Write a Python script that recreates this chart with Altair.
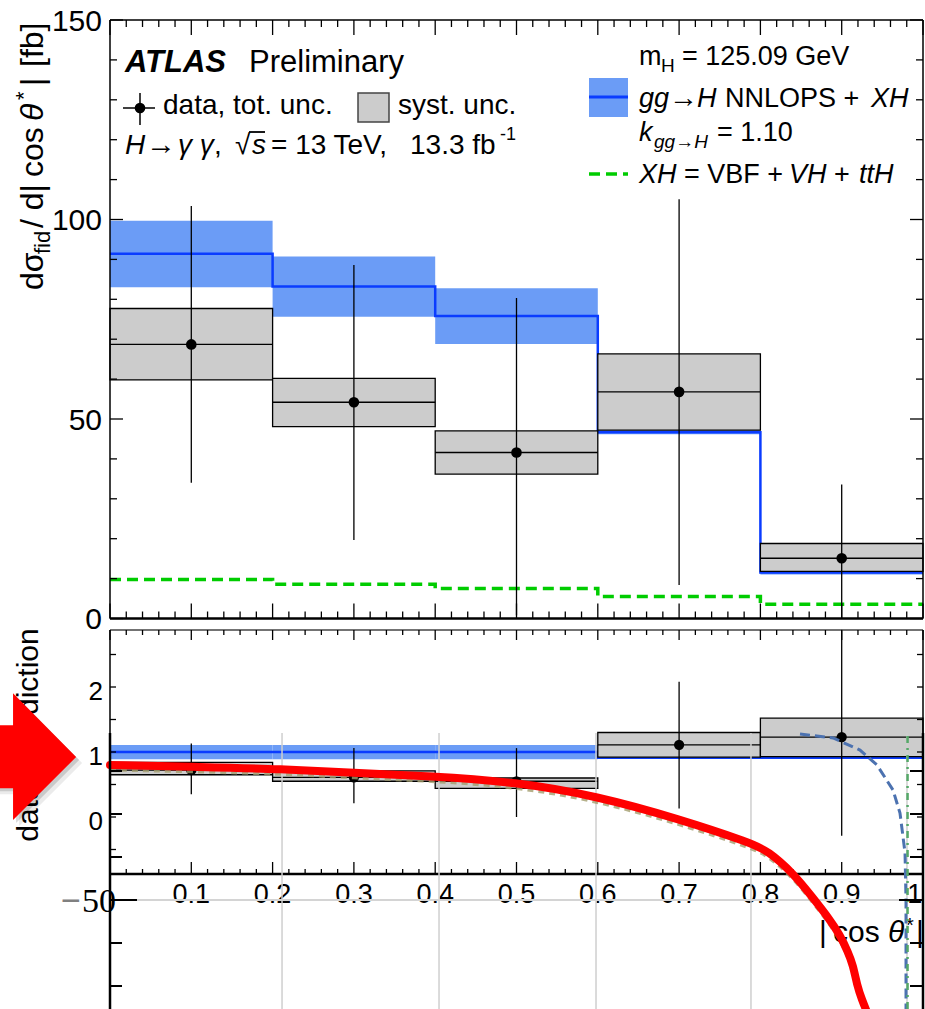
import altair as alt
import pandas as pd

# ---------------- values ----------------
bin_lo = [0.0, 0.2, 0.4, 0.6, 0.8]
bin_hi = [0.2, 0.4, 0.6, 0.8, 1.0]
bin_c = [0.1, 0.3, 0.5, 0.7, 0.9]
bin_edges = [0.0, 0.2, 0.4, 0.6, 0.8, 1.0]

# upper panel (fb)
pred = [91.4, 83.2, 75.8, 46.7, 11.5]
pred_lo = [83.0, 75.6, 68.8, 46.2, 11.0]
pred_hi = [99.7, 90.7, 82.8, 47.2, 11.9]
xh = [9.8, 8.6, 7.5, 5.5, 3.6]
data_val = [68.7, 54.2, 41.6, 56.8, 15.1]
tot_lo = [34.0, 19.7, 0.8, 8.4, 0.0]
tot_hi = [103.4, 88.6, 80.3, 105.1, 33.6]
syst_lo = [59.8, 48.1, 36.2, 47.2, 11.8]
syst_hi = [77.7, 60.2, 47.0, 66.3, 18.8]

# ratio panel
r_pred = [1.0, 1.0, 1.0, 0.91, 0.91]
r_band_lo = [0.888, 0.888, 0.888, 0.91, 0.91]
r_band_hi = [1.108, 1.108, 1.108, 0.91, 0.91]
r_val = [0.72, 0.61, 0.55, 1.11, 1.23]
r_tot_lo = [0.35, 0.21, 0.0, 0.13, -0.29]
r_tot_hi = [1.13, 1.06, 1.06, 2.08, 2.88]
r_syst_lo = [0.65, 0.55, 0.44, 0.92, 0.93]
r_syst_hi = [0.84, 0.71, 0.60, 1.30, 1.52]

# overlaid sketch (x in |cos theta*|, y in its own units)
red_x = [0.0, 0.1107, 0.2116, 0.2989, 0.3936, 0.4994, 0.599, 0.6999, 0.7884, 0.8093,
         0.8401, 0.8647, 0.8831, 0.8979, 0.9077, 0.9139, 0.9188, 0.925, 0.9311]
red_y = [107.0, 104.7, 102.3, 97.7, 94.2, 87.2, 70.9, 44.2, 16.3, 7.0,
         -18.6, -47.7, -69.8, -90.7, -110.5, -125.6, -148.8, -166.3, -180.2]
blue_x = [0.8487, 0.8893, 0.9225, 0.9434, 0.9631, 0.9717, 0.9779, 0.9791, 0.9791]
blue_y = [143.0, 138.4, 124.4, 107.0, 77.9, 51.2, 4.7, -50.0, -180.0]
green_x = [0.981]
ov_grid_x = [0.2116, 0.4047, 0.5978, 0.7884, 0.9803]
ov_grid_y = [-50]
ov_ticks = [100, 50, 0, -100, -150]
ov_major = [-50]

# tick labels
top_y_ticks = [0, 50, 100, 150]
top_y_labels = ["0", "50", "100", "150"]
ratio_y_ticks = [0, 1, 2]
ratio_y_labels = ["0", "1", "2"]
ratio_y_all = [-0.5, 0, 0.5, 1, 1.5, 2, 2.5]
x_label_pos = [0.1, 0.2, 0.3, 0.4, 0.5, 0.6, 0.7, 0.8, 0.9, 0.99]
x_labels = ["0.1", "0.2", "0.3", "0.4", "0.5", "0.6", "0.7", "0.8", "0.9", "1"]

# ---------------- style / layout ----------------
F = "Liberation Sans"
BAND = "#6b9cf6"
BLUE = "#0a3cff"
GREY = "#cccccc"
GREEN = "#00cc00"
RED = "#ff0000"

W, H = 813, 989
OX, OY = 110, 20


def px(x):
    return x - OX


def py(y):
    return y - OY


XS = alt.Scale(domain=[0, 1], nice=False, zero=False)
YT = alt.Scale(domain=[-97.87, 150], nice=False, zero=False)
YR = alt.Scale(domain=[-2.954, 12.262], nice=False, zero=False)
YO = alt.Scale(domain=[-176.74, 973.26], nice=False, zero=False)

ONE = alt.Data(values=[{"k": 0}])


def X(f):
    return alt.X(f, type="quantitative", scale=XS, axis=None)


def Y(f, s):
    return alt.Y(f, type="quantitative", scale=s, axis=None)


def seg(x0, y0, x1, y1, color="black", w=1.5, dash=None):
    kw = dict(color=color, strokeWidth=w)
    if dash:
        kw["strokeDash"] = dash
    return alt.Chart(ONE).mark_rule(**kw).encode(
        x=alt.value(px(x0)), y=alt.value(py(y0)),
        x2=alt.value(px(x1)), y2=alt.value(py(y1)))


def txt(s, x, y, size=28, style="normal", weight="normal", align="left",
        angle=0, color="black", font=F):
    return alt.Chart(ONE).mark_text(
        text=s, font=font, fontSize=size, fontStyle=style, fontWeight=weight,
        align=align, baseline="alphabetic", angle=angle, color=color
    ).encode(x=alt.value(px(x)), y=alt.value(py(y)))


def xticks(vals, y0, y1, w=1.3):
    return alt.Chart(pd.DataFrame({"x": vals})).mark_rule(color="black", strokeWidth=w).encode(
        x=X("x"), y=alt.value(py(y0)), y2=alt.value(py(y1)))


def yticks(vals, s, x0, x1, w=1.3):
    return alt.Chart(pd.DataFrame({"y": vals})).mark_rule(color="black", strokeWidth=w).encode(
        y=Y("y", s), x=alt.value(px(x0)), x2=alt.value(px(x1)))


x_major = [round(i * 0.1, 1) for i in range(11)]
x_minor = [round(i * 0.02, 2) for i in range(51) if i % 5 != 0]
top_minor = [v for v in range(10, 150, 10) if v % 50 != 0]

# ---------------- upper panel ----------------
top_df = pd.DataFrame({"lo": bin_lo, "hi": bin_hi, "c": bin_c, "plo": pred_lo, "phi": pred_hi,
                       "val": data_val, "tlo": tot_lo, "thi": tot_hi, "slo": syst_lo, "shi": syst_hi})
step_df = pd.DataFrame({"x": bin_edges, "pred": pred + [pred[-1]], "xh": xh + [xh[-1]]})

top_layers = [
    alt.Chart(top_df).mark_rect(color=BAND, strokeWidth=0).encode(
        x=X("lo"), x2="hi", y=Y("plo", YT), y2="phi"),
    alt.Chart(step_df).mark_line(interpolate="step-after", color=GREEN, strokeWidth=3.5,
                                 strokeDash=[11, 6]).encode(x=X("x"), y=Y("xh", YT)),
    alt.Chart(step_df).mark_line(interpolate="step-after", color=BLUE, strokeWidth=2.5).encode(
        x=X("x"), y=Y("pred", YT)),
    alt.Chart(top_df).mark_rect(fill=GREY, stroke="black", strokeWidth=1.3).encode(
        x=X("lo"), x2="hi", y=Y("slo", YT), y2="shi"),
    alt.Chart(top_df).mark_rule(color="black", strokeWidth=1.3).encode(
        x=X("lo"), x2="hi", y=Y("val", YT)),
    alt.Chart(top_df).mark_rule(color="black", strokeWidth=1.3).encode(
        x=X("c"), y=Y("tlo", YT), y2="thi"),
    alt.Chart(top_df).mark_circle(size=113, color="black", opacity=1).encode(
        x=X("c"), y=Y("val", YT)),
    # frame
    seg(110, 20, 923, 20), seg(110, 20, 110, 618.5), seg(923, 20, 923, 618.5),
    seg(110, 618.5, 923, 618.5, w=2.5),
    xticks(x_major, 618.5, 603.5), xticks(x_minor, 618.5, 611.5),
    xticks(x_major, 20, 35), xticks(x_minor, 20, 27),
    yticks(top_y_ticks, YT, 110, 123), yticks(top_minor, YT, 110, 117),
    yticks(top_y_ticks, YT, 923, 910), yticks(top_minor, YT, 923, 916),
    alt.Chart(pd.DataFrame({"v": top_y_ticks, "lab": top_y_labels})).mark_text(
        align="right", baseline="alphabetic", dy=11, fontSize=30, font=F, color="black").encode(
        y=Y("v", YT), x=alt.value(px(102)), text="lab:N"),
]

# ---------------- ratio panel ----------------
r_df = pd.DataFrame({"lo": bin_lo, "hi": bin_hi, "c": bin_c, "blo": r_band_lo, "bhi": r_band_hi,
                     "val": r_val, "tlo": r_tot_lo, "thi": r_tot_hi, "slo": r_syst_lo, "shi": r_syst_hi})
r_step = pd.DataFrame({"x": bin_edges, "p": r_pred + [r_pred[-1]]})

ratio_layers = [
    alt.Chart(r_df).mark_rect(color=BAND, strokeWidth=0).encode(
        x=X("lo"), x2="hi", y=Y("blo", YR), y2="bhi"),
    alt.Chart(r_step).mark_line(interpolate="step-after", color=BLUE, strokeWidth=2.5).encode(
        x=X("x"), y=Y("p", YR)),
    alt.Chart(r_df).mark_rect(fill=GREY, stroke="black", strokeWidth=1.3).encode(
        x=X("lo"), x2="hi", y=Y("slo", YR), y2="shi"),
    alt.Chart(r_df).mark_rule(color="black", strokeWidth=1.3).encode(
        x=X("lo"), x2="hi", y=Y("val", YR)),
    alt.Chart(r_df).mark_rule(color="black", strokeWidth=1.3).encode(
        x=X("c"), y=Y("tlo", YR), y2="thi"),
    alt.Chart(r_df).mark_circle(size=105, color="black", opacity=1).encode(
        x=X("c"), y=Y("val", YR)),
    seg(110, 630, 923, 630, color="#444444", w=1.5),
    seg(110, 630, 110, 874), seg(923, 630, 923, 874),
    seg(110, 874, 923, 874, w=2.5),
    xticks(x_major, 630, 640), xticks(x_minor, 630, 635),
    xticks(x_major, 874, 862), xticks(x_minor, 874, 869),
    yticks(ratio_y_all, YR, 110, 116), yticks(ratio_y_all, YR, 923, 917),
    alt.Chart(pd.DataFrame({"v": ratio_y_ticks, "lab": ratio_y_labels})).mark_text(
        align="right", baseline="alphabetic", dy=13, fontSize=26, font=F, color="black").encode(
        y=Y("v", YR), x=alt.value(px(103)), text="lab:N"),
    alt.Chart(pd.DataFrame({"x": x_label_pos, "lab": x_labels})).mark_text(
        align="center", baseline="alphabetic", fontSize=27, font=F, color="black").encode(
        x=X("x"), y=alt.value(py(903)), text="lab:N"),
]

# ---------------- annotations (text) ----------------
ann_layers = [
    # upper y title
    txt("dσ", 43, 290, size=32, angle=270),
    txt("fid", 50, 254, size=22, angle=270),
    txt("/ d|", 43, 228, size=32, angle=270),
    txt("cos", 43, 177, size=32, angle=270),
    txt("θ", 43, 121, size=32, style="italic", angle=270),
    txt("*", 31, 100, size=22, angle=270),
    txt("|", 43, 86, size=32, angle=270),
    txt("[fb]", 43, 67, size=32, angle=270),
    # ratio y title
    txt("data / prediction", 38, 735, size=30, angle=270, align="center"),
    # x title
    txt("|", 819, 942, size=30), txt("cos", 833, 942, size=30),
    txt("θ", 888, 942, size=30, style="italic"), txt("*", 906, 932, size=20),
    txt("|", 916, 942, size=30),
    # ATLAS label
    txt("ATLAS", 125, 72, size=31, style="italic", weight="bold"),
    txt("Preliminary", 249, 72, size=31),
    seg(123, 108, 155, 108), seg(140, 93, 140, 125),
    alt.Chart(ONE).mark_circle(size=113, color="black", opacity=1).encode(
        x=alt.value(px(140)), y=alt.value(py(108))),
    txt("data, tot. unc.", 163, 114, size=28),
    alt.Chart(ONE).mark_rect(fill=GREY, stroke="#444444", strokeWidth=1.5).encode(
        x=alt.value(px(358)), x2=alt.value(px(389)), y=alt.value(py(93)), y2=alt.value(py(122))),
    txt("syst. unc.", 398, 114, size=28),
    txt("H", 125, 154, size=28, style="italic"), txt("→", 146, 154, size=30),
    txt("γ γ", 178, 154, size=28, style="italic"), txt(",", 214, 154, size=28),
    txt("√", 235, 154, size=28), txt("s", 252, 154, size=28, style="italic"),
    seg(249, 132, 265, 132, w=1.8),
    txt("= 13 TeV,", 271, 154, size=28), txt("13.3 fb", 410, 154, size=28),
    txt("-1", 500, 140, size=18),
    # right legend
    txt("m", 639, 65, size=27), txt("H", 661, 72, size=19), txt("= 125.09 GeV", 682, 65, size=27),
    alt.Chart(ONE).mark_rect(fill=BAND, strokeWidth=0).encode(
        x=alt.value(px(589)), x2=alt.value(px(628)), y=alt.value(py(78)), y2=alt.value(py(117))),
    seg(589, 97, 628, 97, color=BLUE, w=3),
    txt("gg", 639, 107, size=27, style="italic"), txt("→", 669, 107, size=29),
    txt("H", 697, 107, size=27, style="italic"), txt("NNLOPS +", 725, 107, size=27),
    txt("XH", 871, 107, size=27, style="italic"),
    txt("k", 639, 141, size=27, style="italic"), txt("gg→H", 654, 148, size=19, style="italic"),
    txt("= 1.10", 717, 141, size=27),
    seg(589, 174, 628, 174, color=GREEN, w=3.5, dash=[11, 6]),
    txt("XH", 639, 183, size=27, style="italic"), txt("= VBF +", 684, 183, size=27),
    txt("VH", 789, 183, size=27, style="italic"), txt("+", 834, 183, size=27),
    txt("ttH", 859, 183, size=27, style="italic"),
]

# ---------------- overlaid sketch ----------------
red_df = pd.DataFrame({"x": red_x, "y": red_y})
blue_df = pd.DataFrame({"x": blue_x, "y": blue_y})
ARROW = "M-0.74,-0.49 L-0.23,-0.49 L-0.23,-0.98 L0.74,0 L-0.23,0.97 L-0.23,0.48 L-0.74,0.48 Z"

ov_layers = [
    alt.Chart(pd.DataFrame({"x": ov_grid_x})).mark_rule(color="#cfcfcf", strokeWidth=1.5).encode(
        x=X("x"), y=alt.value(py(733)), y2=alt.value(H)),
    alt.Chart(pd.DataFrame({"y": ov_grid_y})).mark_rule(color="#d4d4d4", strokeWidth=2).encode(
        y=Y("y", YO), x=alt.value(0), x2=alt.value(W)),
    alt.Chart(red_df).mark_line(color="#a39e6e", strokeWidth=3, strokeDash=[6, 5], yOffset=5,
                                interpolate="basis", opacity=0.8).encode(x=X("x"), y=Y("y", YO)),
    alt.Chart(red_df).mark_line(color=RED, strokeWidth=8, interpolate="basis",
                                strokeCap="round").encode(x=X("x"), y=Y("y", YO)),
    alt.Chart(blue_df).mark_line(color="#4c72b0", strokeWidth=3, strokeDash=[10, 5]).encode(
        x=X("x"), y=Y("y", YO)),
    alt.Chart(pd.DataFrame({"x": green_x})).mark_rule(color="#55a868", strokeWidth=2.5,
                                                       strokeDash=[7, 5, 2, 5]).encode(
        x=X("x"), y=alt.value(py(736)), y2=alt.value(H)),
    seg(110, 733, 110, 1009, w=2.5), seg(923, 733, 923, 1009, w=2.5),
    yticks(ov_ticks, YO, 110, 122, w=2), yticks(ov_major, YO, 110, 137, w=2),
    yticks(ov_ticks, YO, 923, 910, w=2), yticks(ov_major, YO, 923, 899, w=2),
    txt("−", 71, 912, size=34, align="center", color="#808080"),
    txt("50", 116, 912, size=34, align="right", font="Liberation Serif"),
    # arrow with soft shadow
    alt.Chart(ONE).mark_point(shape=ARROW, size=16900, filled=True, color="black", opacity=0.08,
                              strokeWidth=0).encode(x=alt.value(px(34)), y=alt.value(py(763))),
    alt.Chart(ONE).mark_point(shape=ARROW, size=16900, filled=True, color="black", opacity=0.14,
                              strokeWidth=0).encode(x=alt.value(px(31)), y=alt.value(py(760))),
    alt.Chart(ONE).mark_point(shape=ARROW, size=16900, filled=True, color=RED, opacity=1,
                              strokeWidth=0).encode(x=alt.value(px(28)), y=alt.value(py(757))),
]

chart = alt.layer(
    alt.layer(*top_layers),
    alt.layer(*ratio_layers),
    alt.layer(*ann_layers),
    alt.layer(*ov_layers),
).resolve_scale(y="independent").properties(
    width=W, height=H,
    padding={"left": OX, "top": OY, "right": 2, "bottom": 0},
    autosize=alt.AutoSizeParams(type="none"),
    background="white",
).configure_view(stroke=None)

chart.save("out.html", embed_options={"renderer": "svg", "actions": False})
